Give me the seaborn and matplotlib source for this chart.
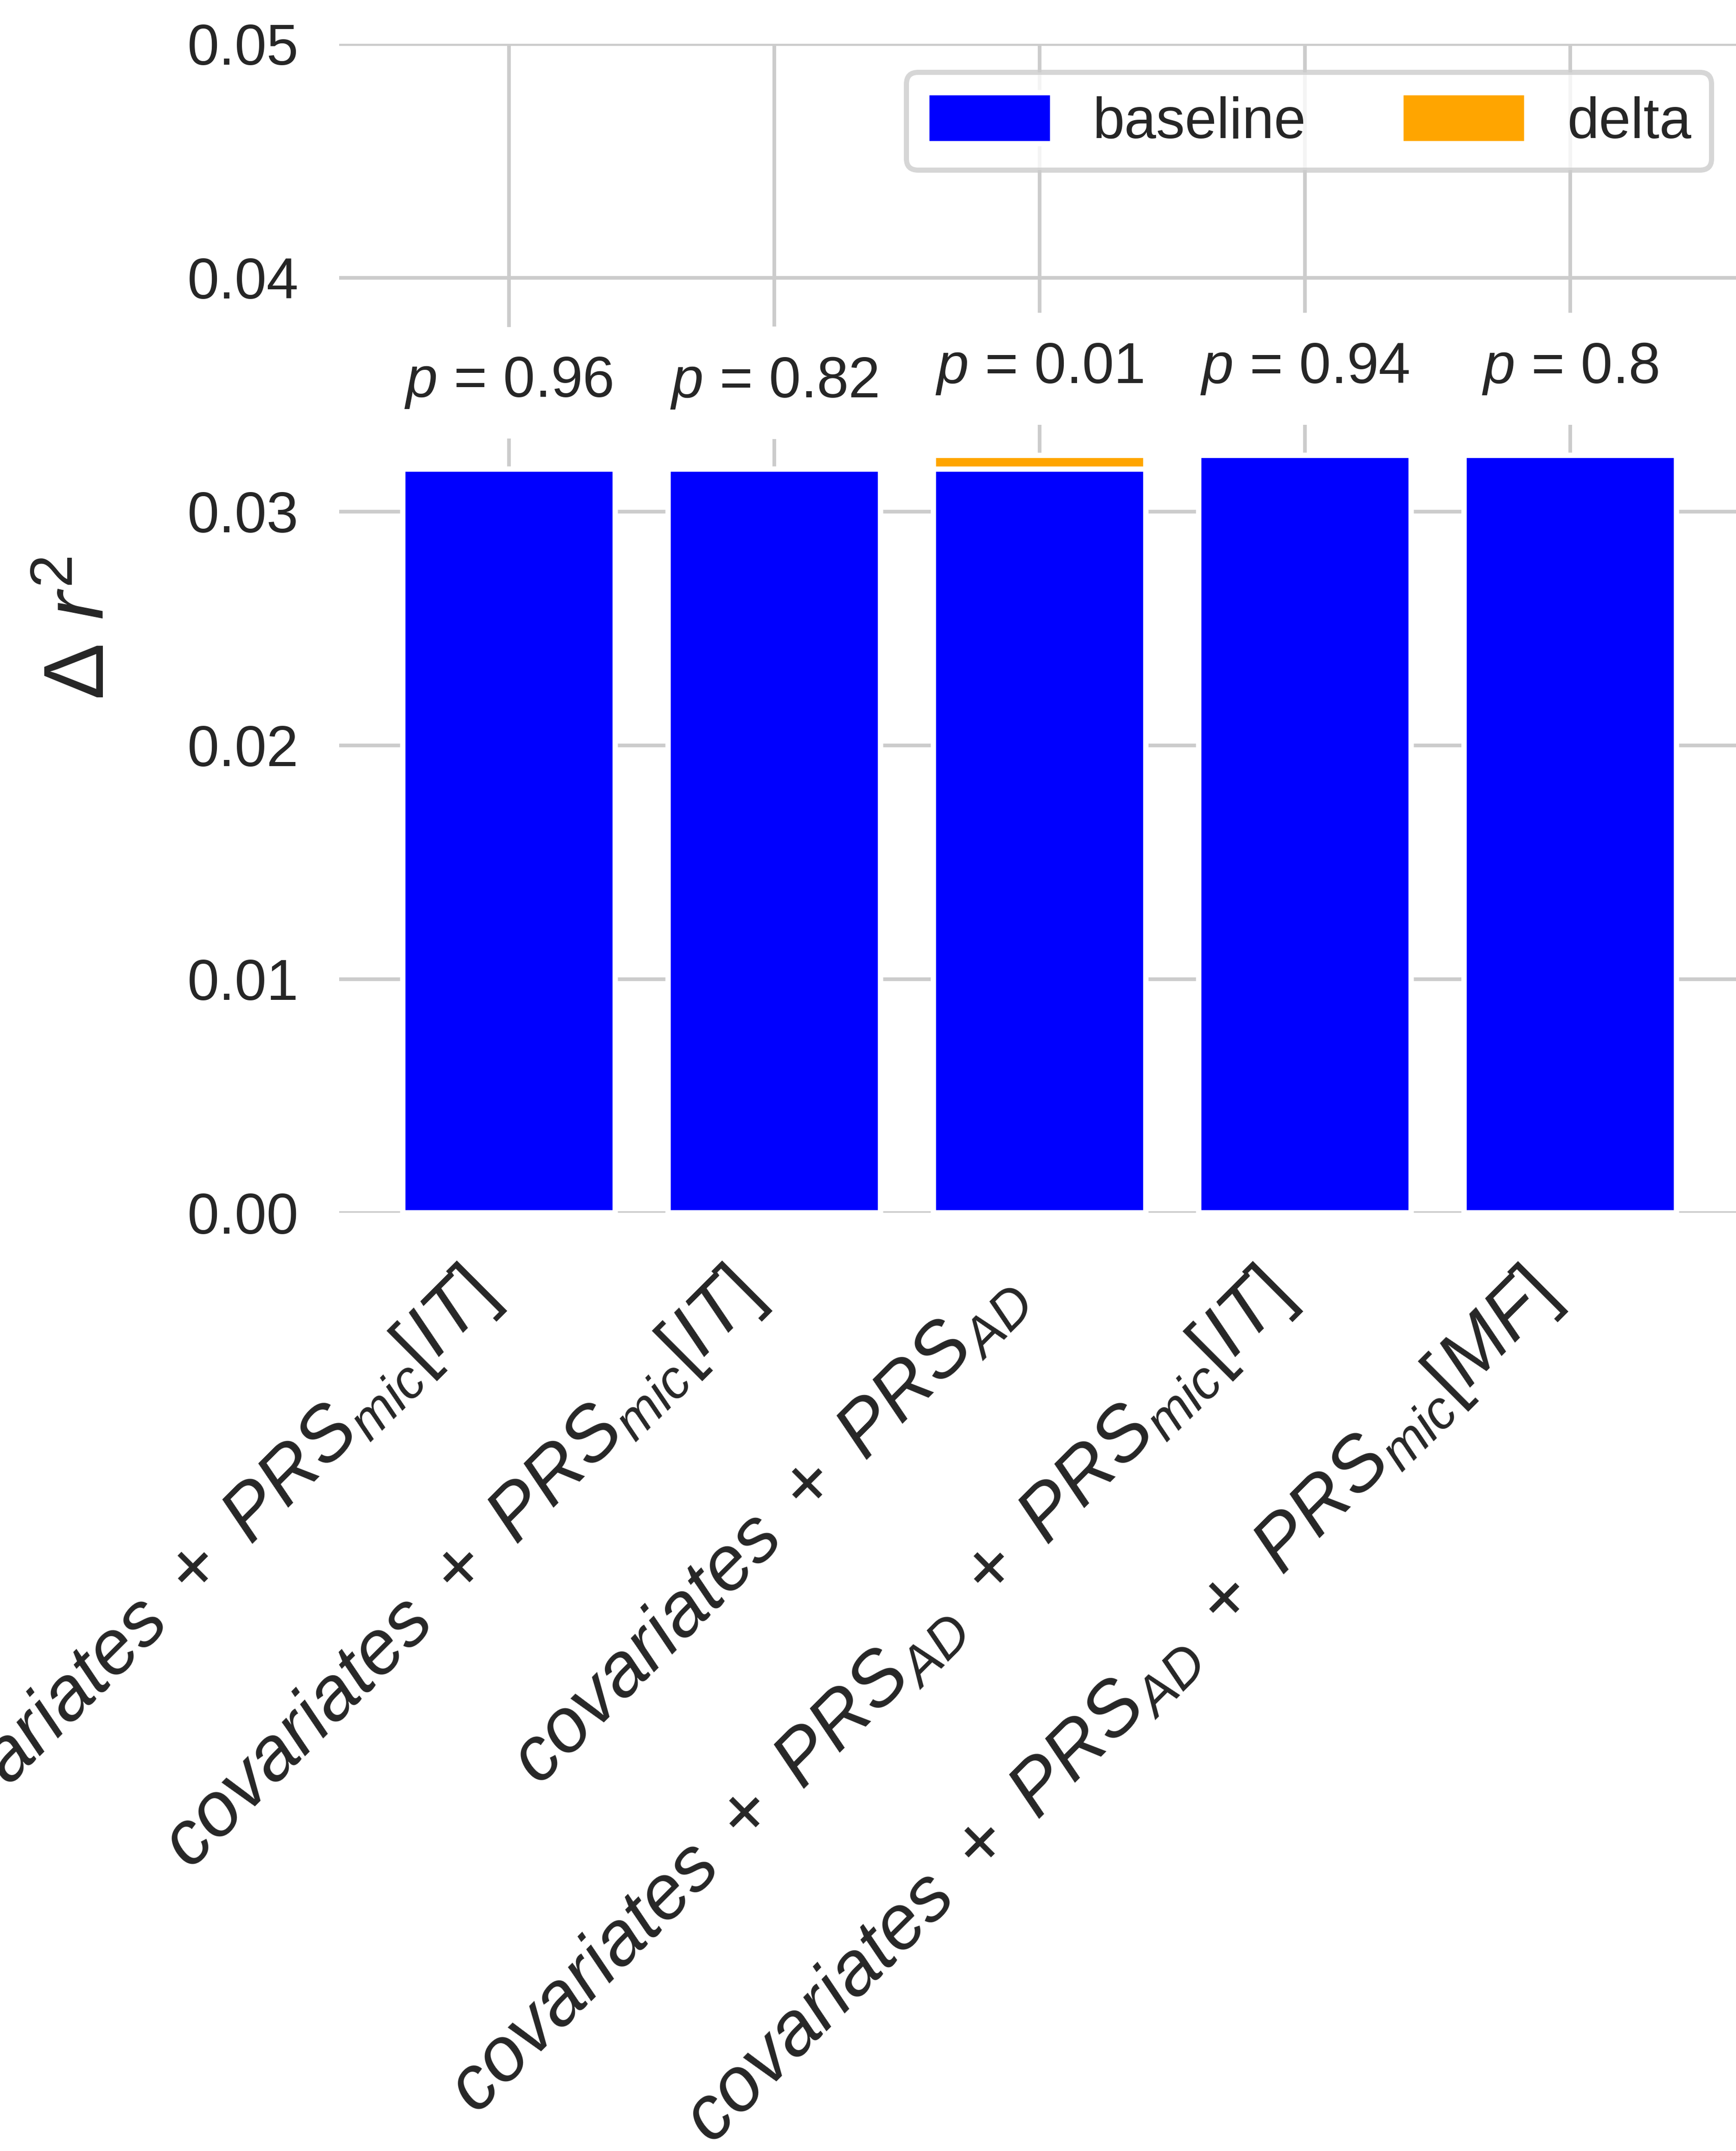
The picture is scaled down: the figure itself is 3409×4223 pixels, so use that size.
import matplotlib
matplotlib.use("Agg")
import matplotlib.pyplot as plt
import seaborn as sns
import pandas as pd

# ---------------- data ----------------
model_labels = [
    r"$covariates\ +\ PRS_{mic}[IT]$",
    r"$covariates\ +\ PRS_{mic}[IT]$",
    r"$covariates\ +\ PRS_{AD}$",
    r"$covariates\ +\ PRS_{AD}\ +\ PRS_{mic}[IT]$",
    r"$covariates\ +\ PRS_{AD}\ +\ PRS_{mic}[MF]$",
]
baseline = [0.0318, 0.0318, 0.0318, 0.0324, 0.0324]
delta = [0.0, 0.0, 0.0006, 0.0, 0.0]
p_values = ["0.96", "0.82", "0.01", "0.94", "0.8"]
y_ticks = [0.00, 0.01, 0.02, 0.03, 0.04, 0.05]
legend_labels = ["baseline", "delta"]
bar_colors = ["#0000ff", "#ffa500"]

# ---------------- style ----------------
sns.set_theme(style="whitegrid")
plt.rcParams["font.family"] = ["Liberation Sans", "DejaVu Sans"]
plt.rcParams["mathtext.fontset"] = "custom"
plt.rcParams["mathtext.rm"] = "Liberation Sans"
plt.rcParams["mathtext.it"] = "Liberation Sans:italic"
plt.rcParams["mathtext.bf"] = "Liberation Sans:bold"
plt.rcParams["text.color"] = ".15"
plt.rcParams["axes.labelcolor"] = ".15"
plt.rcParams["xtick.color"] = ".15"
plt.rcParams["ytick.color"] = ".15"

df = pd.DataFrame({
    "idx": list(range(len(model_labels))),
    "baseline": baseline,
    "total": [b + d for b, d in zip(baseline, delta)],
})

fig = plt.figure(figsize=(3409 / 300, 4223 / 300), dpi=300)
ax = fig.add_axes([0.1953, 0.4362, 0.807, 0.5434])
ax.set_axisbelow(True)

edge_lw = 2.5
sns.barplot(data=df, x="idx", y="total", color=bar_colors[1], saturation=1,
            errorbar=None, width=0.8, edgecolor="white", linewidth=edge_lw,
            label=legend_labels[1], ax=ax)
sns.barplot(data=df, x="idx", y="baseline", color=bar_colors[0], saturation=1,
            errorbar=None, width=0.8, edgecolor="white", linewidth=edge_lw,
            label=legend_labels[0], ax=ax)

ax.set_xlim(-0.64, len(model_labels) - 1 + 0.64)
ax.set_ylim(y_ticks[0], y_ticks[-1])
ax.set_yticks(y_ticks)
ax.set_yticklabels([f"{t:.2f}" for t in y_ticks], fontsize=27)
ax.set_xticks(range(len(model_labels)))
ax.set_xticklabels(model_labels, rotation=45, ha="right", fontsize=36)
ax.tick_params(axis="y", pad=19, length=0)
ax.tick_params(axis="x", pad=22, length=0)

ax.grid(True, color=".8", linewidth=1.75)
for s in ax.spines.values():
    s.set_visible(False)

ax.set_xlabel("")
ax.set_ylabel(r"$\Delta\ r^2$", fontsize=40)
ax.yaxis.set_label_coords(-0.155, 0.5)

totals = df["total"].tolist()
for i, (t, p) in enumerate(zip(totals, p_values)):
    ax.text(i, t + 0.0037, r"$p$ = " + p, ha="center", va="center", fontsize=27,
            bbox=dict(boxstyle="square,pad=0.5", fc="white", ec="none"), zorder=3)

handles, labels = ax.get_legend_handles_labels()
order = [labels.index(l) for l in legend_labels]
leg = ax.legend([handles[i] for i in order], [labels[i] for i in order],
                loc="upper right", ncol=2, fontsize=27, frameon=True,
                framealpha=0.8, edgecolor=".8", handlelength=2.2,
                handleheight=1.0, handletextpad=0.7, columnspacing=1.65,
                borderpad=0.35)
leg.get_frame().set_linewidth(2.4)

fig.savefig("out.png", dpi=300)
